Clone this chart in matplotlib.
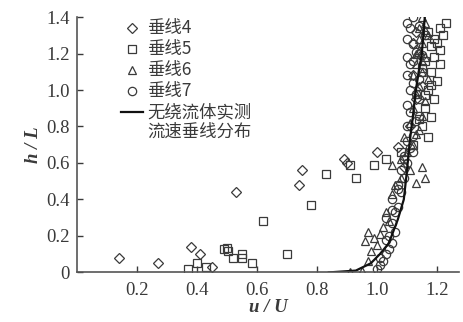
import matplotlib.pyplot as plt

# 垂线4 (diamonds)
u4 = [0.14, 0.27, 0.38, 0.41, 0.45, 0.53, 0.74, 0.75, 0.89, 0.90, 1.00, 1.07,
      1.11, 1.13, 1.12, 1.14, 1.13, 1.09, 1.15, 1.12]
h4 = [0.08, 0.05, 0.14, 0.10, 0.03, 0.44, 0.48, 0.56, 0.62, 0.60, 0.66, 0.69,
      0.80, 0.95, 1.08, 1.20, 1.32, 0.58, 1.02, 1.26]

# 垂线5 (squares)
u5 = [0.37, 0.40, 0.43, 0.49, 0.50, 0.505, 0.52, 0.55, 0.55, 0.585, 0.62, 0.70,
      0.78, 0.83, 0.91, 0.93, 0.99, 1.03, 1.08, 1.12, 1.17, 1.15, 1.18, 1.16,
      1.19, 1.17, 1.20, 1.18, 1.21, 1.19, 1.21, 1.20, 1.22, 1.21, 1.23,
      1.14, 1.16, 1.15, 1.18, 1.17, 1.19, 1.16, 1.18]
h5 = [0.02, 0.05, 0.03, 0.13, 0.135, 0.12, 0.08, 0.08, 0.10, 0.05, 0.28, 0.10,
      0.37, 0.54, 0.59, 0.52, 0.59, 0.62, 0.66, 0.70, 0.74, 0.80, 0.85, 0.90,
      0.95, 1.00, 1.05, 1.10, 1.14, 1.18, 1.22, 1.26, 1.30, 1.34, 1.37,
      0.84, 0.97, 1.12, 1.24, 1.32, 1.28, 1.16, 1.03]

# 垂线6 (triangles)
u6 = [0.91, 0.95, 0.97, 0.96, 0.99, 1.01, 0.98, 1.03, 1.05, 1.02, 1.06, 1.13,
      1.16, 1.15, 1.05, 1.08, 1.10, 1.12, 1.09, 1.14, 1.11, 1.15, 1.12, 1.16,
      1.13, 1.14, 1.17, 1.15, 1.13, 1.16, 1.14, 1.15, 1.17, 1.14, 1.16, 1.15,
      1.00, 0.97, 1.04, 1.08, 1.11, 1.13, 1.12, 1.15, 1.14, 1.16, 1.13]
h6 = [0.00, 0.01, 0.06, 0.17, 0.19, 0.21, 0.12, 0.33, 0.43, 0.25, 0.48, 0.49,
      0.52, 0.58, 0.59, 0.62, 0.66, 0.70, 0.74, 0.78, 0.82, 0.86, 0.90, 0.94,
      0.98, 1.02, 1.06, 1.10, 1.14, 1.18, 1.22, 1.26, 1.30, 1.34, 1.37, 1.40,
      0.15, 0.22, 0.28, 0.52, 0.56, 0.76, 1.08, 1.16, 1.28, 1.33, 1.20]

# 垂线7 (circles)
u7 = [1.00, 1.01, 1.02, 1.03, 1.04, 1.05, 1.04, 1.06, 1.05, 1.03, 1.06, 1.07,
      1.05, 1.08, 1.07, 1.09, 1.08, 1.10, 1.09, 1.11, 1.10, 1.12, 1.10, 1.13,
      1.11, 1.10, 1.14, 1.11, 1.12, 1.10, 1.15, 1.11, 1.10, 1.13, 1.12, 1.10,
      1.16, 1.11, 1.10, 1.12, 1.01, 1.03, 1.05, 1.07, 1.09, 1.12, 1.14, 1.13,
      1.15, 1.14, 1.12, 1.14]
h7 = [0.02, 0.04, 0.06, 0.10, 0.13, 0.16, 0.20, 0.22, 0.27, 0.30, 0.33, 0.36,
      0.40, 0.44, 0.48, 0.52, 0.56, 0.60, 0.64, 0.68, 0.72, 0.75, 0.80, 0.83,
      0.88, 0.92, 0.95, 1.00, 1.04, 1.08, 1.10, 1.14, 1.18, 1.21, 1.25, 1.28,
      1.30, 1.34, 1.37, 1.40, 0.08, 0.18, 0.34, 0.46, 0.62, 0.66, 0.86, 0.98,
      1.19, 1.06, 1.16, 1.35]

# 无绕流体实测流速垂线分布
u_ref = [0.84, 0.93, 0.98, 1.01, 1.04, 1.07, 1.09, 1.10, 1.11, 1.12, 1.13, 1.15, 1.16]
h_ref = [0.00, 0.01, 0.05, 0.10, 0.16, 0.29, 0.40, 0.55, 0.72, 0.85, 1.00, 1.20, 1.40]

x_ticks = [0.2, 0.4, 0.6, 0.8, 1.0, 1.2]
y_ticks = [0, 0.2, 0.4, 0.6, 0.8, 1.0, 1.2, 1.4]
y_labels = ["0", "0.2", "0.4", "0.6", "0.8", "1.0", "1.2", "1.4"]
legend_labels = ["垂线4", "垂线5", "垂线6", "垂线7"]
line_label = ["无绕流体实测", "流速垂线分布"]

INK = "#3a3a3a"
SERIF = "Liberation Serif"
CJK = ["Noto Sans CJK SC", "DejaVu Sans"]

fig = plt.figure(figsize=(4.63, 3.22), dpi=100)
ax = fig.add_axes([0.166, 0.154, 0.826, 0.793])

mk = dict(linestyle="none", markerfacecolor="none", markeredgecolor=INK,
          markeredgewidth=0.9)
styles = [("D", 5), ("s", 5.5), ("^", 6), ("o", 6)]
for (m, ms), u, h in zip(styles, [u4, u5, u6, u7], [h4, h5, h6, h7]):
    ax.plot(u, h, marker=m, markersize=ms, **mk)
ax.plot(u_ref, h_ref, color="#111111", lw=1.6)

ax.set_xlim(0, 1.275)
ax.set_ylim(0, 1.4)
ax.set_xticks(x_ticks)
ax.set_xticklabels([f"{v:.1f}" for v in x_ticks])
ax.set_yticks(y_ticks)
ax.set_yticklabels(y_labels)
ax.tick_params(direction="in", length=4, width=1, colors=INK, labelsize=13.5)
ax.tick_params(axis="x", pad=7)
ax.tick_params(axis="y", pad=5)
for lab in ax.get_xticklabels() + ax.get_yticklabels():
    lab.set_family(SERIF)
for side in ("top", "right"):
    ax.spines[side].set_visible(False)
for side in ("left", "bottom"):
    ax.spines[side].set_color("#555555")
    ax.spines[side].set_linewidth(1.2)

ax.set_xlabel("u / U", family=SERIF, style="italic", weight="bold",
              fontsize=13.5, color=INK, labelpad=0)
ax.set_ylabel("h / L", family=SERIF, style="italic", weight="bold",
              fontsize=13.5, color=INK, labelpad=3)

# legend drawn by hand so the line sits next to the first text line
tr = ax.transAxes
fs = 12.5
rows = [0.957, 0.875, 0.793, 0.710]
for (m, ms), lab, y in zip(styles, legend_labels, rows):
    ax.plot([0.144], [y], marker=m, markersize=ms, transform=tr,
            clip_on=False, **mk)
    ax.text(0.183, y, lab, transform=tr, va="center", ha="left",
            family=CJK, fontsize=fs, color=INK)
ax.plot([0.116, 0.172], [0.628, 0.628], color="#111111", lw=1.6,
        transform=tr)
ax.text(0.183, 0.628, line_label[0], transform=tr, va="center", ha="left",
        family=CJK, fontsize=fs, color=INK)
ax.text(0.183, 0.550, line_label[1], transform=tr, va="center", ha="left",
        family=CJK, fontsize=fs, color=INK)

fig.savefig("out.png", dpi=100, facecolor="white")
